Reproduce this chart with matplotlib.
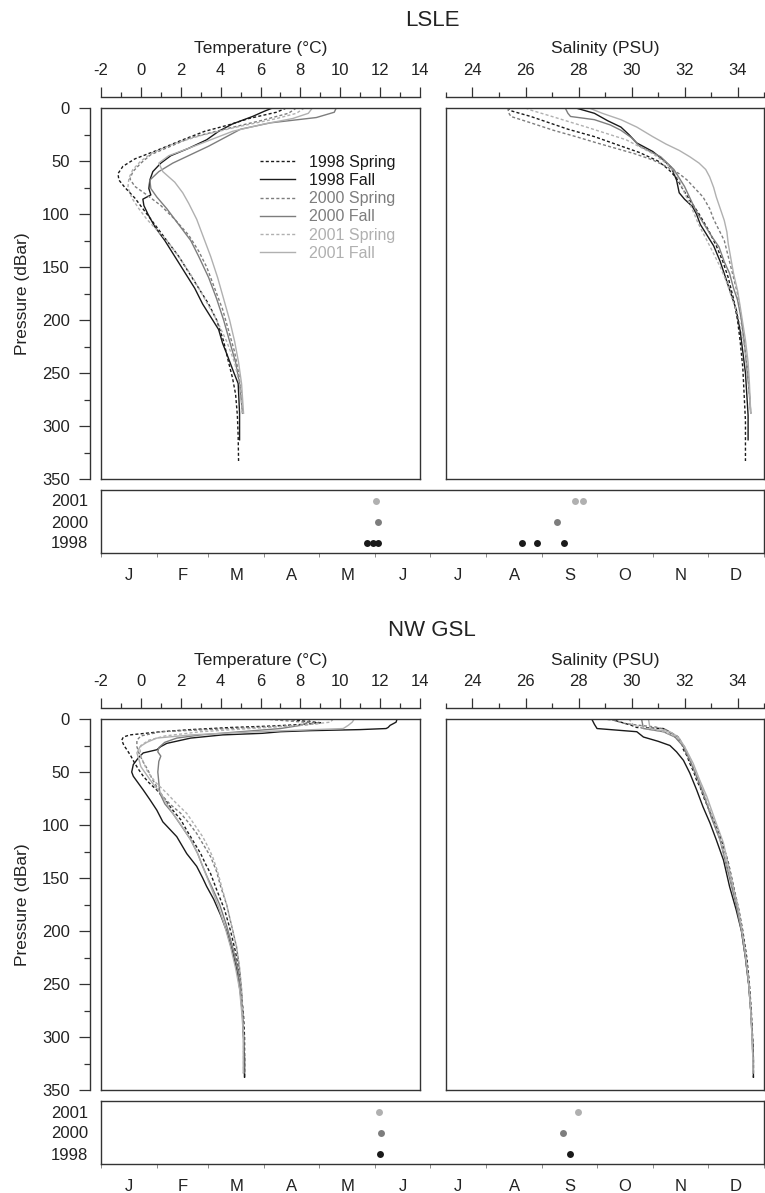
import matplotlib
matplotlib.use("Agg")
import matplotlib.pyplot as plt
from matplotlib.ticker import MultipleLocator, FixedLocator, NullFormatter

plt.rcParams['font.family'] = ['Liberation Sans', 'DejaVu Sans']
plt.rcParams['axes.unicode_minus'] = False

# ---------------- data ----------------
series_labels = ['1998 Spring', '1998 Fall', '2000 Spring', '2000 Fall', '2001 Spring', '2001 Fall']
year_labels = ['1998', '2000', '2001']
month_labels = ['J', 'F', 'M', 'A', 'M', 'J', 'J', 'A', 'S', 'O', 'N', 'D']
month_starts = [0, 31, 59, 90, 120, 151, 181, 212, 243, 273, 304, 334, 365]
temp_ticks = [-2, 0, 2, 4, 6, 8, 10, 12, 14]
sal_ticks = [24, 26, 28, 30, 32, 34]
pres_ticks = [0, 50, 100, 150, 200, 250, 300, 350]

# LSLE temperature profiles (pressure dBar, temperature C)
lsle_t98s_p = [0, 4, 10, 16, 22, 30, 40, 48, 55, 62, 68, 75, 85, 95, 110, 125, 140, 155, 170, 185, 200, 220, 240, 255, 270, 290, 310, 333]
lsle_t98s_v = [7.3, 6.8, 5.4, 4.4, 3.2, 2.1, 0.8, -0.3, -0.9, -1.15, -1.1, -0.8, -0.3, 0.1, 0.7, 1.3, 1.9, 2.4, 2.9, 3.4, 3.8, 4.15, 4.4, 4.6, 4.75, 4.84, 4.88, 4.9]
lsle_t98f_p = [0, 3, 8, 15, 22, 30, 38, 45, 52, 60, 68, 76, 82, 86, 92, 100, 112, 125, 140, 155, 170, 185, 200, 209, 222, 234, 250, 260, 288, 313]
lsle_t98f_v = [6.6, 6.2, 5.6, 4.6, 3.9, 3.3, 2.4, 1.5, 1.0, 0.6, 0.45, 0.4, 0.5, 0.1, 0.15, 0.35, 0.7, 1.2, 1.7, 2.2, 2.7, 3.1, 3.6, 3.9, 4.1, 4.35, 4.67, 4.88, 4.95, 4.95]
lsle_t00s_p = [0, 5, 12, 20, 28, 36, 44, 52, 60, 67, 74, 82, 92, 105, 120, 135, 150, 170, 190, 210, 230, 250, 270, 288]
lsle_t00s_v = [7.8, 7.4, 6.0, 4.2, 2.5, 1.5, 0.5, 0.0, -0.4, -0.55, -0.3, 0.3, 1.0, 1.7, 2.4, 2.9, 3.3, 3.7, 4.1, 4.4, 4.7, 4.9, 5.05, 5.1]
lsle_t00f_p = [0, 4, 9, 14, 20, 28, 36, 44, 52, 60, 68, 76, 84, 95, 110, 125, 140, 160, 180, 200, 220, 240, 260, 288]
lsle_t00f_v = [9.8, 9.7, 8.8, 6.5, 5.0, 4.2, 3.4, 2.5, 1.6, 0.9, 0.45, 0.5, 0.8, 1.3, 1.9, 2.5, 2.9, 3.4, 3.8, 4.15, 4.45, 4.75, 4.95, 5.1]
lsle_t01s_p = [0, 5, 10, 18, 26, 34, 42, 50, 58, 66, 75, 85, 95, 105, 115, 125, 140, 160, 180, 200, 220, 240, 265, 288]
lsle_t01s_v = [8.2, 7.8, 6.8, 4.8, 3.0, 1.6, 0.6, 0.0, -0.4, -0.6, -0.65, -0.45, -0.1, 0.3, 0.8, 1.3, 1.9, 2.6, 3.2, 3.8, 4.3, 4.7, 5.0, 5.1]
lsle_t01f_p = [0, 5, 10, 15, 22, 30, 38, 45, 52, 60, 70, 80, 90, 105, 120, 140, 160, 180, 200, 220, 240, 260, 288]
lsle_t01f_v = [8.6, 8.4, 7.6, 6.2, 4.6, 3.5, 2.4, 1.4, 0.9, 1.1, 1.7, 2.1, 2.4, 2.8, 3.1, 3.5, 3.85, 4.15, 4.45, 4.7, 4.9, 5.05, 5.15]

# LSLE salinity profiles (pressure dBar, salinity PSU)
lsle_s98s_p = [0, 3, 8, 14, 20, 27, 35, 42, 50, 58, 66, 75, 87, 100, 115, 130, 145, 160, 180, 200, 220, 245, 270, 295, 315, 333]
lsle_s98s_v = [25.3, 25.5, 26.2, 26.9, 27.6, 28.6, 29.5, 30.3, 31.0, 31.4, 31.7, 31.9, 32.2, 32.55, 32.9, 33.2, 33.45, 33.65, 33.85, 34.0, 34.1, 34.2, 34.25, 34.3, 34.3, 34.3]
lsle_s98f_p = [0, 5, 12, 18, 25, 33, 41, 49, 56, 62, 68, 74, 80, 86, 93, 100, 110, 120, 130, 145, 160, 175, 190, 210, 230, 250, 270, 290, 313]
lsle_s98f_v = [27.9, 28.6, 29.1, 29.6, 29.9, 30.2, 30.8, 31.2, 31.5, 31.6, 31.7, 31.75, 31.8, 32.0, 32.3, 32.45, 32.6, 32.85, 33.1, 33.35, 33.55, 33.75, 33.95, 34.1, 34.2, 34.3, 34.35, 34.4, 34.4]
lsle_s00s_p = [0, 4, 8, 14, 21, 27, 33, 38, 43, 49, 55, 62, 68, 76, 84, 95, 105, 115, 125, 135, 145, 160, 175, 190, 210, 230, 250, 270, 288]
lsle_s00s_v = [25.35, 25.35, 25.45, 26.2, 27.05, 27.9, 28.7, 29.4, 30.1, 30.8, 31.3, 31.8, 32.1, 32.4, 32.7, 32.95, 33.1, 33.3, 33.5, 33.6, 33.7, 33.85, 34.0, 34.1, 34.2, 34.3, 34.4, 34.45, 34.5]
lsle_s00f_p = [0, 5, 8, 11, 16, 21, 28, 36, 46, 58, 66, 74, 82, 90, 100, 112, 122, 131, 145, 156, 170, 181, 200, 220, 245, 270, 288]
lsle_s00f_v = [27.5, 27.6, 27.7, 28.6, 29.2, 29.6, 30.0, 30.3, 31.1, 31.6, 31.8, 32.0, 32.15, 32.3, 32.5, 32.8, 33.05, 33.3, 33.5, 33.7, 33.85, 34.0, 34.15, 34.25, 34.35, 34.45, 34.5]
lsle_s01s_p = [0, 2, 8, 18, 30, 43, 52, 60, 68, 80, 96, 108, 118, 130, 140, 150, 165, 180, 194, 210, 230, 250, 270, 288]
lsle_s01s_v = [26.0, 26.2, 27.0, 28.3, 29.8, 30.8, 31.3, 31.6, 31.8, 32.0, 32.3, 32.5, 32.7, 32.95, 33.15, 33.35, 33.6, 33.8, 34.0, 34.15, 34.3, 34.4, 34.45, 34.5]
lsle_s01f_p = [0, 5, 11, 18, 27, 34, 40, 46, 52, 58, 65, 75, 84, 95, 106, 117, 128, 142, 156, 172, 187, 203, 219, 240, 260, 288]
lsle_s01f_v = [28.4, 28.9, 29.6, 30.2, 30.8, 31.3, 31.8, 32.2, 32.55, 32.8, 32.95, 33.1, 33.2, 33.35, 33.5, 33.6, 33.65, 33.75, 33.85, 34.0, 34.1, 34.2, 34.3, 34.4, 34.45, 34.5]

# NW GSL temperature profiles
nw_t98s_p = [0, 2, 3.5, 5, 6.6, 8, 10, 12, 15, 17, 20, 25, 29, 35, 42, 48, 54, 60, 67, 76, 86, 95, 105, 116, 127, 137, 146, 161, 180, 200, 220, 240, 260, 280, 300, 320, 338]
nw_t98s_v = [7.3, 8.2, 9.0, 8.2, 6.6, 4.5, 2.5, 1.0, -0.55, -0.88, -0.96, -0.85, -0.7, -0.5, -0.3, -0.1, 0.12, 0.4, 0.8, 1.2, 1.6, 2.0, 2.3, 2.65, 3.0, 3.25, 3.5, 3.8, 4.2, 4.5, 4.75, 4.95, 5.05, 5.15, 5.2, 5.2, 5.2]
nw_t98f_p = [0, 3, 6, 8, 9, 10, 11, 12, 13.5, 15, 18, 23, 26, 29, 32, 36, 43, 50, 54, 60, 67, 76, 86, 97, 111, 127, 139, 150, 158, 170, 185, 200, 220, 240, 260, 280, 300, 320, 338]
nw_t98f_v = [12.85, 12.8, 12.5, 12.4, 12.3, 11.0, 8.5, 7.0, 6.1, 4.1, 2.5, 1.3, 1.0, 0.8, 0.12, -0.1, -0.38, -0.46, -0.38, -0.15, 0.12, 0.45, 0.8, 1.1, 1.8, 2.3, 2.8, 3.1, 3.3, 3.65, 4.0, 4.3, 4.6, 4.85, 5.0, 5.1, 5.15, 5.2, 5.2]
nw_t00s_p = [0, 2, 4, 6, 9, 12, 16, 20, 26, 32, 40, 48, 56, 64, 73, 81, 89, 98, 108, 119, 130, 144, 158, 175, 195, 215, 235, 255, 275, 300, 320, 334]
nw_t00s_v = [6.2, 7.5, 9.0, 8.0, 4.5, 1.0, 0.0, -0.2, -0.2, -0.1, 0.1, 0.35, 0.55, 0.8, 1.1, 1.5, 2.0, 2.4, 2.8, 3.15, 3.5, 3.8, 4.0, 4.3, 4.55, 4.8, 4.95, 5.05, 5.1, 5.15, 5.15, 5.15]
nw_t00f_p = [0, 3, 6, 9, 12, 15, 18, 22, 27, 31, 35, 40, 50, 60, 70, 80, 89, 100, 114, 127, 139, 150, 158, 175, 195, 215, 235, 255, 275, 300, 320, 334]
nw_t00f_v = [8.5, 8.4, 8.0, 7.0, 5.0, 3.0, 1.8, 1.2, 0.9, 0.85, 1.0, 0.9, 0.85, 0.9, 0.95, 1.2, 1.6, 2.0, 2.5, 2.85, 3.1, 3.35, 3.55, 3.95, 4.3, 4.6, 4.85, 5.0, 5.1, 5.15, 5.15, 5.15]
nw_t01s_p = [0, 3, 6, 9, 12, 16, 20, 25, 29, 35, 42, 50, 60, 70, 80, 89, 100, 111, 120, 130, 144, 158, 175, 195, 215, 235, 255, 275, 300, 320, 334]
nw_t01s_v = [9.65, 9.5, 8.0, 5.5, 3.0, 1.2, 0.4, 0.0, -0.04, 0.0, 0.15, 0.35, 0.75, 1.3, 1.8, 2.3, 2.7, 3.1, 3.35, 3.6, 3.85, 4.05, 4.3, 4.55, 4.8, 4.95, 5.05, 5.1, 5.15, 5.15, 5.15]
nw_t01f_p = [0, 3, 6, 9, 12, 15, 18, 22, 26, 32, 38, 45, 53, 61, 70, 80, 89, 101, 114, 127, 139, 158, 175, 195, 215, 235, 255, 275, 300, 320, 334]
nw_t01f_v = [10.7, 10.6, 10.4, 10.15, 5.8, 2.5, 0.8, 0.3, -0.04, -0.2, -0.1, 0.0, 0.3, 0.6, 1.0, 1.3, 1.6, 2.05, 2.5, 2.85, 3.1, 3.5, 3.85, 4.2, 4.5, 4.75, 4.95, 5.05, 5.15, 5.15, 5.15]

# NW GSL salinity profiles
nw_s98s_p = [0, 3, 6, 8, 9, 13, 17, 23, 29, 35, 42, 50, 58, 65, 73, 84, 95, 107, 120, 135, 158, 180, 200, 225, 250, 275, 300, 320, 338]
nw_s98s_v = [29.2, 29.6, 30.0, 30.2, 31.2, 31.5, 31.77, 31.9, 31.96, 32.1, 32.2, 32.35, 32.46, 32.6, 32.71, 32.9, 33.09, 33.3, 33.47, 33.65, 33.85, 34.05, 34.2, 34.35, 34.45, 34.52, 34.57, 34.6, 34.6]
nw_s98f_p = [0, 5, 9, 12, 17, 21, 25, 31, 39, 51, 67, 83, 98, 114, 133, 158, 180, 200, 225, 250, 275, 300, 320, 338]
nw_s98f_v = [28.5, 28.6, 28.7, 30.2, 30.45, 31.0, 31.45, 31.7, 31.96, 32.2, 32.46, 32.7, 32.96, 33.2, 33.47, 33.7, 33.95, 34.15, 34.3, 34.42, 34.5, 34.56, 34.6, 34.6]
nw_s00s_p = [0, 1, 4, 6, 7.5, 10, 17, 23, 36, 51, 67, 89, 114, 158, 180, 200, 225, 250, 275, 300, 320, 334]
nw_s00s_v = [28.9, 29.3, 29.7, 30.3, 30.9, 31.3, 31.64, 31.9, 32.15, 32.4, 32.65, 32.97, 33.35, 33.8, 34.0, 34.15, 34.3, 34.42, 34.5, 34.56, 34.58, 34.58]
nw_s00f_p = [0, 9, 12, 17, 26, 39, 54, 70, 92, 114, 152, 175, 200, 225, 250, 275, 300, 320, 334]
nw_s00f_v = [30.38, 30.45, 31.2, 31.64, 31.96, 32.2, 32.46, 32.71, 33.0, 33.34, 33.72, 33.95, 34.15, 34.3, 34.42, 34.5, 34.55, 34.58, 34.58]
nw_s01s_p = [0, 3, 6, 9, 12, 17, 26, 39, 54, 70, 92, 114, 152, 175, 200, 225, 250, 275, 300, 320, 334]
nw_s01s_v = [29.9, 30.0, 30.07, 30.6, 31.2, 31.7, 32.0, 32.25, 32.5, 32.75, 33.05, 33.35, 33.75, 33.98, 34.17, 34.32, 34.43, 34.5, 34.55, 34.58, 34.58]
nw_s01f_p = [0, 9, 12, 17, 26, 42, 58, 73, 95, 117, 152, 175, 200, 225, 250, 275, 300, 320, 334]
nw_s01f_v = [30.64, 30.7, 31.45, 31.77, 32.0, 32.33, 32.58, 32.84, 33.15, 33.47, 33.78, 34.0, 34.18, 34.32, 34.43, 34.5, 34.55, 34.58, 34.58]

# sampling dates (day of year) per year, rows 1998, 2000, 2001
lsle_days_1998 = [146.7, 150.0, 152.6, 231.6, 240.1, 255.0]
lsle_days_2000 = [152.3, 251.0]
lsle_days_2001 = [151.6, 260.7, 265.2]
nw_days_1998 = [153.5, 258.1]
nw_days_2000 = [154.2, 254.5]
nw_days_2001 = [153.0, 262.6]

# ---------------- style ----------------
C98, C00, C01 = '#1a1a1a', '#7d7d7d', '#b0b0b0'
series_colors = [C98, C98, C00, C00, C01, C01]
DASH = (0, (2.2, 1.6))
series_styles = [DASH, '-', DASH, '-', DASH, '-']
year_colors = [C98, C00, C01]
FRAME = '#333333'
TXT = '#222222'
FS = 12

W, H = 765, 1193
fig = plt.figure(figsize=(W / 100, H / 100), dpi=100)


def fx(px):
    return px / W


def fy(py):
    return 1 - py / H


def box(ax):
    for s in ax.spines.values():
        s.set_color(FRAME)
        s.set_linewidth(1.0)
    ax.tick_params(left=False, bottom=False, top=False, right=False,
                   labelleft=False, labelbottom=False)


def section(off, title, tprof, sprof, days, with_legend):
    top = 108 + off
    bot = 479 + off
    ax_t = fig.add_axes([fx(101), fy(bot), fx(319), (bot - top) / H])
    ax_s = fig.add_axes([fx(446), fy(bot), fx(318), (bot - top) / H])
    for ax, prof, lim, ticks, lab in [(ax_t, tprof, (-2, 14), temp_ticks, 'Temperature (°C)'),
                                      (ax_s, sprof, (23, 35), sal_ticks, 'Salinity (PSU)')]:
        box(ax)
        for (pp, vv), lb, c, ls in zip(prof, series_labels, series_colors, series_styles):
            ax.plot(vv, pp, color=c, linestyle=ls, lw=1.0, label=lb)
        ax.set_xlim(*lim)
        ax.set_ylim(350, 0)
        sec = ax.secondary_xaxis(1 + 11 / (bot - top))
        sec.set_xticks(ticks)
        sec.xaxis.set_minor_locator(MultipleLocator(1))
        sec.tick_params(which='major', length=7.5, width=0.9, color=FRAME, pad=6,
                        labelsize=FS, labelcolor=TXT)
        sec.tick_params(which='minor', length=3.5, width=0.9, color=FRAME)
        for s in sec.spines.values():
            s.set_color(FRAME)
            s.set_linewidth(1.0)
        x0, x1 = ax.get_position().x0, ax.get_position().x1
        fig.text((x0 + x1) / 2, fy(49 + off), lab, ha='center', va='center',
                 fontsize=12.5, color=TXT)
    secy = ax_t.secondary_yaxis(-11 / 319)
    secy.set_yticks(pres_ticks)
    secy.yaxis.set_minor_locator(MultipleLocator(25))
    secy.tick_params(which='major', length=8, width=0.9, color=FRAME, pad=6.5,
                     labelsize=FS, labelcolor=TXT)
    secy.tick_params(which='minor', length=4, width=0.9, color=FRAME)
    for s in secy.spines.values():
        s.set_color(FRAME)
        s.set_linewidth(1.0)
    fig.text(fx(23), fy((top + bot) / 2), 'Pressure (dBar)', rotation=90,
             ha='center', va='center', fontsize=12.5, color=TXT)
    fig.text(fx(432), fy(20 + off), title, ha='center', va='center',
             fontsize=16, color=TXT)

    if with_legend:
        ax_t.legend(loc='upper left', bbox_to_anchor=(0.498, 0.874), frameon=False,
                    fontsize=11.5, labelspacing=0.2, handlelength=2.2,
                    handletextpad=0.9, borderpad=0, borderaxespad=0,
                    labelcolor='linecolor')

    # sampling-date strip
    st_top, st_bot = 490 + off, 553 + off
    ax_d = fig.add_axes([fx(101), fy(st_bot), fx(663), (st_bot - st_top) / H])
    for s in ax_d.spines.values():
        s.set_color(FRAME)
        s.set_linewidth(1.0)
    for row, (dd, c) in enumerate(zip(days, year_colors), start=1):
        ax_d.plot(dd, [row] * len(dd), 'o', color=c, ms=5, mec='none')
    ax_d.set_xlim(0, 365)
    ax_d.set_ylim(0.5, 3.5)
    ax_d.set_yticks([1, 2, 3])
    ax_d.set_yticklabels(year_labels)
    ax_d.tick_params(axis='y', length=0, pad=9.5, labelsize=FS, labelcolor=TXT)
    ax_d.xaxis.set_major_locator(FixedLocator(month_starts))
    ax_d.xaxis.set_major_formatter(NullFormatter())
    mids = [(a + b) / 2 for a, b in zip(month_starts[:-1], month_starts[1:])]
    ax_d.xaxis.set_minor_locator(FixedLocator(mids))
    ax_d.set_xticklabels(month_labels, minor=True)
    ax_d.tick_params(axis='x', which='major', length=3, width=0.6, color='#777777')
    ax_d.tick_params(axis='x', which='minor', length=0, pad=11, labelsize=FS, labelcolor=TXT)


lsle_tprof = [(lsle_t98s_p, lsle_t98s_v), (lsle_t98f_p, lsle_t98f_v), (lsle_t00s_p, lsle_t00s_v),
              (lsle_t00f_p, lsle_t00f_v), (lsle_t01s_p, lsle_t01s_v), (lsle_t01f_p, lsle_t01f_v)]
lsle_sprof = [(lsle_s98s_p, lsle_s98s_v), (lsle_s98f_p, lsle_s98f_v), (lsle_s00s_p, lsle_s00s_v),
              (lsle_s00f_p, lsle_s00f_v), (lsle_s01s_p, lsle_s01s_v), (lsle_s01f_p, lsle_s01f_v)]
nw_tprof = [(nw_t98s_p, nw_t98s_v), (nw_t98f_p, nw_t98f_v), (nw_t00s_p, nw_t00s_v),
            (nw_t00f_p, nw_t00f_v), (nw_t01s_p, nw_t01s_v), (nw_t01f_p, nw_t01f_v)]
nw_sprof = [(nw_s98s_p, nw_s98s_v), (nw_s98f_p, nw_s98f_v), (nw_s00s_p, nw_s00s_v),
            (nw_s00f_p, nw_s00f_v), (nw_s01s_p, nw_s01s_v), (nw_s01f_p, nw_s01f_v)]

section(0, 'LSLE', lsle_tprof, lsle_sprof,
        [lsle_days_1998, lsle_days_2000, lsle_days_2001], True)
section(611, 'NW GSL', nw_tprof, nw_sprof,
        [nw_days_1998, nw_days_2000, nw_days_2001], False)

fig.savefig('out.png', dpi=100)
